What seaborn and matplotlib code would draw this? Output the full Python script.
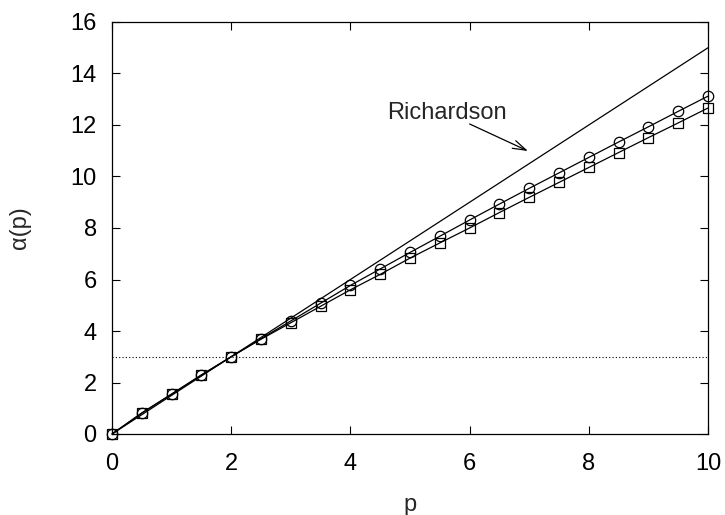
import numpy as np
import pandas as pd
import matplotlib
matplotlib.use("Agg")
import matplotlib.pyplot as plt
import seaborn as sns

# p grid and measured scaling exponents
p_values = [0.0, 0.5, 1.0, 1.5, 2.0, 2.5, 3.0, 3.5, 4.0, 4.5, 5.0,
            5.5, 6.0, 6.5, 7.0, 7.5, 8.0, 8.5, 9.0, 9.5, 10.0]
alpha_circles = [0.0, 0.82, 1.55, 2.30, 3.00, 3.70, 4.39, 5.08, 5.77, 6.41, 7.05,
                 7.68, 8.31, 8.93, 9.54, 10.14, 10.74, 11.34, 11.93, 12.53, 13.12]
alpha_squares = [0.0, 0.81, 1.55, 2.28, 3.00, 3.68, 4.32, 4.96, 5.60, 6.20, 6.83,
                 7.42, 8.00, 8.60, 9.19, 9.77, 10.35, 10.93, 11.51, 12.08, 12.66]
# Richardson prediction alpha = 3p/2
richardson_p = [0.0, 10.0]
richardson_alpha = [0.0, 15.0]
reference_level = 3.0

sns.set_theme(style="ticks")
plt.rcParams["font.family"] = ["Liberation Sans", "DejaVu Sans"]

FS = 17

fig = plt.figure(figsize=(7.25, 5.15), dpi=100)
ax = fig.add_axes([112 / 725, 1 - 434 / 515, 596 / 725, 412 / 515])

df_c = pd.DataFrame({"p": p_values, "alpha": alpha_circles})
df_s = pd.DataFrame({"p": p_values, "alpha": alpha_squares})
df_r = pd.DataFrame({"p": richardson_p, "alpha": richardson_alpha})

sns.lineplot(data=df_r, x="p", y="alpha", ax=ax, color="black", lw=0.9)
sns.lineplot(data=df_c, x="p", y="alpha", ax=ax, color="black", lw=0.9,
             marker="o", markersize=7.5, markerfacecolor="none",
             markeredgecolor="black", markeredgewidth=0.9, clip_on=False)
sns.lineplot(data=df_s, x="p", y="alpha", ax=ax, color="black", lw=0.9,
             marker="s", markersize=7.5, markerfacecolor="none",
             markeredgecolor="black", markeredgewidth=0.9, clip_on=False)
ax.axhline(reference_level, color="black", lw=0.8, ls=(0, (1, 2)))

ax.text(5.62, 12.47, "Richardson", ha="center", va="center", fontsize=FS)
ax.annotate("", xy=(6.98, 10.99), xytext=(6.0, 12.04),
            arrowprops=dict(arrowstyle="->,head_length=0.8,head_width=0.25",
                            color="black", lw=0.9, shrinkA=0, shrinkB=0,
                            mutation_scale=12))

ax.set_xlim(0, 10)
ax.set_ylim(0, 16)
ax.set_xticks([0, 2, 4, 6, 8, 10])
ax.set_yticks([0, 2, 4, 6, 8, 10, 12, 14, 16])
ax.tick_params(direction="in", top=True, right=True, length=6, width=0.8,
               labelsize=FS, colors="black")
ax.tick_params(axis="x", pad=14)
ax.tick_params(axis="y", pad=11)
for s in ax.spines.values():
    s.set_linewidth(0.9)
    s.set_color("black")
ax.set_xlabel("p", fontsize=FS, labelpad=13)
ax.set_ylabel("α(p)", fontsize=FS, labelpad=28)

fig.savefig("out.png", dpi=100)
